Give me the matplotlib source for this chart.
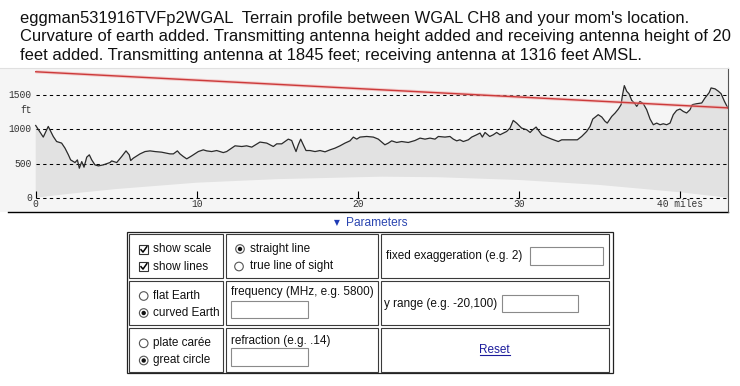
import matplotlib
matplotlib.use("Agg")
import matplotlib.pyplot as plt
from matplotlib.patches import Rectangle, Circle, Polygon

# ---------------- data ----------------
title_lines = [
    "eggman531916TVFp2WGAL  Terrain profile between WGAL CH8 and your mom's location.",
    "Curvature of earth added. Transmitting antenna height added and receiving antenna height of 20",
    "feet added. Transmitting antenna at 1845 feet; receiving antenna at 1316 feet AMSL.",
]

terrain_miles = [
    0.00, 0.47, 0.78, 1.09, 1.30, 1.61, 1.82, 2.03, 2.17, 2.44, 2.59, 2.71, 2.86, 3.00,
    3.17, 3.33, 3.48, 3.68, 3.89, 4.20, 4.61, 4.72, 5.03, 5.34, 5.61, 5.81, 5.90, 6.06,
    6.48, 6.79, 7.10, 7.41, 7.82, 8.34, 8.55, 8.80, 8.96, 9.17, 9.38, 9.69, 10.10, 10.41,
    10.62, 10.93, 11.24, 11.65, 11.86, 12.17, 12.38, 12.80, 13.10, 13.42, 13.73, 13.93,
    14.35, 14.76, 14.97, 15.28, 15.48, 15.69, 15.90, 16.04, 16.17, 16.31, 16.46, 16.62,
    16.79, 17.04, 17.35, 17.66, 17.97, 18.28, 18.59, 18.90, 19.21, 19.52, 19.73, 19.94,
    20.14, 20.56, 20.97, 21.28, 21.69, 21.90, 22.11, 22.42, 22.73, 23.14, 23.56, 23.87,
    24.18, 24.49, 24.80, 25.01, 25.42, 25.73, 25.94, 26.15, 26.35, 26.56, 26.87, 27.08,
    27.39, 27.60, 27.74, 27.91, 28.20, 28.42, 28.63, 28.84, 29.25, 29.46, 29.66, 29.87,
    30.18, 30.50, 30.71, 30.87, 31.08, 31.28, 31.43, 31.74, 32.05, 32.46, 32.67, 32.98,
    33.39, 33.64, 33.91, 34.22, 34.43, 34.60, 34.94, 35.16, 35.36, 35.50, 35.67, 35.78,
    35.99, 36.19, 36.36, 36.44, 36.56, 36.71, 36.85, 37.02, 37.22, 37.33, 37.53, 37.74,
    37.95, 38.16, 38.36, 38.57, 38.78, 38.98, 39.19, 39.40, 39.60, 39.81, 40.02, 40.22,
    40.43, 40.64, 40.78, 41.06, 41.37, 41.57, 41.83, 41.95, 42.20, 42.41, 42.57, 42.78,
    42.99,
]
terrain_ft = [
    1058, 888, 1044, 897, 823, 800, 726, 628, 554, 515, 554, 432, 529, 447,
    594, 628, 554, 481, 466, 481, 515, 539, 515, 603, 686, 628, 544, 579,
    642, 676, 686, 676, 667, 642, 642, 686, 642, 603, 569, 613, 676, 701,
    686, 676, 691, 661, 676, 726, 760, 750, 760, 741, 785, 815,
    800, 750, 789, 789, 823, 858, 838, 750, 676, 775, 858, 775,
    691, 691, 676, 691, 672, 701, 726, 760, 800, 833, 888, 858,
    888, 897, 888, 858, 775, 800, 833, 809, 823, 809, 838, 873,
    858, 873, 858, 897, 888, 897, 858, 833, 848, 823, 848, 888,
    922, 947, 888, 956, 897, 922, 956, 922, 970, 1020, 1132, 1093,
    1020, 995, 956, 995, 1035, 970, 922, 888, 858, 823, 848, 848,
    848, 848, 897, 970, 1044, 1152, 1216, 1182, 1120, 1093, 1152, 1191,
    1241, 1299, 1363, 1495, 1642, 1558, 1524, 1426, 1377, 1338, 1411, 1377,
    1289, 1152, 1069, 1093, 1069, 1083, 1069, 1093, 1216, 1279, 1299, 1264,
    1241, 1289, 1363, 1377, 1388, 1461, 1539, 1608, 1594, 1558, 1524, 1411,
    1314,
]

# earth-curvature baseline (bottom of the shaded terrain)
curve_miles = [0, 2, 5, 10, 15, 20, 21.5, 25, 30, 35, 40, 43]
curve_ft = [0, 55, 127, 220, 272, 300, 308, 300, 260, 187, 80, 0]

tx_ft = 1845
rx_ft = 1316
path_miles = 42.99

y_ticks = [0, 500, 1000, 1500]
y_tick_labels = ["0", "500", "1000", "1500"]
x_ticks = [0, 10, 20, 30, 40]
x_tick_labels = ["0", "10", "20", "30", "40 miles"]

# ---------------- figure ----------------
W, H = 740, 386
fig = plt.figure(figsize=(W / 100, H / 100), dpi=100, facecolor="white")

# chart area in pixel geometry
top_px, bot_px, right_px = 68, 212, 728
x0_px, px_per_mile = 35.7, 16.1
y0_px, ft_per_px = 197.7, 14.65

ax = fig.add_axes([0, (H - bot_px) / H, right_px / W, (bot_px - top_px) / H])
ax.set_facecolor("#f5f5f5")
ax.set_xlim(-x0_px / px_per_mile, (right_px - x0_px) / px_per_mile)
ax.set_ylim((y0_px - bot_px) * ft_per_px, (y0_px - top_px) * ft_per_px)
for s in ax.spines.values():
    s.set_visible(False)
ax.set_xticks([])
ax.set_yticks([])

# shaded terrain between curvature and profile
poly_pts = list(zip(terrain_miles, terrain_ft)) + list(zip(curve_miles[::-1], curve_ft[::-1]))
ax.add_patch(Polygon(poly_pts, closed=True, facecolor="#e2e2e2", edgecolor="none", zorder=1))

# dashed reference lines
ax.hlines(y_ticks, 0, path_miles, colors="black", linestyles=(0, (3.2, 3.2)), lw=0.75, zorder=3)

# terrain line
ax.plot(terrain_miles, terrain_ft, color="#2a2a2a", lw=0.9, zorder=4)

# line of sight
ax.plot([0, path_miles], [tx_ft, rx_ft], color="#f0a0a0", lw=2.4, alpha=0.5, zorder=5,
        solid_capstyle="butt")
ax.plot([0, path_miles], [tx_ft, rx_ft], color="#cc3a3a", lw=1.0, zorder=6)

mono = "Liberation Mono"
lfs = 6.9
for v, lab in zip(y_ticks, y_tick_labels):
    ax.text(-0.25, v, lab, ha="right", va="center", fontsize=lfs, family=mono, color="#333333")
ax.text(-0.25, (y0_px - 110) * ft_per_px, "ft", ha="right", va="center", fontsize=lfs,
        family=mono, color="#333333")
for v, lab in zip(x_ticks, x_tick_labels):
    ax.vlines(v, -10, 95, colors="black", lw=0.8, zorder=6)
    ax.text(v, -97, lab, ha="center", va="center", fontsize=lfs, family=mono, color="#333333")

# ---------------- page overlay ----------------
ov = fig.add_axes([0, 0, 1, 1])
ov.set_xlim(0, W)
ov.set_ylim(H, 0)
ov.axis("off")
ov.patch.set_visible(False)

# chart frame lines
ov.plot([8, right_px], [bot_px, bot_px], color="black", lw=1.0)
ov.plot([right_px, right_px], [top_px, bot_px], color="#555555", lw=0.8)
ov.plot([0, right_px], [top_px, top_px], color="#e0e0e0", lw=0.8)

sans = ["Liberation Sans", "DejaVu Sans"]
for i, line in enumerate(title_lines):
    ov.text(20, 18 + i * 18.8, line, ha="left", va="center", fontsize=11.9, family=sans,
            color="#111111")

# Parameters header
ov.text(337, 223, "\u25BC", ha="center", va="center", fontsize=5.5, family=["DejaVu Sans"],
        color="#1f3bb5")
ov.text(346, 223.5, "Parameters", ha="left", va="center", fontsize=8.6, family=sans,
        color="#2a45b0")

# table
ov.add_patch(Rectangle((126.7, 231.7), 612.7 - 126.7, 373.3 - 231.7, fill=False,
                       edgecolor="#222222", lw=0.9))
cols = [(129.3, 223.3), (226, 378.3), (380.7, 609.3)]
rows = [(234, 278.3), (281, 325), (328.3, 371.7)]
for (x1, x2) in cols:
    for (y1, y2) in rows:
        ov.add_patch(Rectangle((x1, y1), x2 - x1, y2 - y1, fill=False, edgecolor="#3a3a3a",
                               lw=0.8))

fs = 8.5
tc = "#111111"


def checkbox(x, y):
    ov.add_patch(Rectangle((x - 4.5, y - 4.5), 9, 9, facecolor="white", edgecolor="#333333",
                           lw=0.8))
    ov.plot([x - 2.8, x - 0.8, x + 3.0], [y + 0.2, y + 2.6, y - 2.8], color="black", lw=1.1)


def radio(x, y, on):
    ov.add_patch(Circle((x, y), 4.3, facecolor="white", edgecolor="#555555", lw=0.8))
    if on:
        ov.add_patch(Circle((x, y), 2.2, facecolor="#111111", edgecolor="none"))


def inputbox(x1, y1, x2, y2):
    ov.add_patch(Rectangle((x1, y1), x2 - x1, y2 - y1, facecolor="white", edgecolor="#8a8a8a",
                           lw=0.8))


checkbox(143.8, 249.5)
ov.text(153.3, 249.5, "show scale", ha="left", va="center", fontsize=fs, family=sans, color=tc)
checkbox(143.8, 266.5)
ov.text(153.3, 266.5, "show lines", ha="left", va="center", fontsize=fs, family=sans, color=tc)

radio(240, 249, True)
ov.text(249.5, 249, "straight line", ha="left", va="center", fontsize=fs, family=sans, color=tc)
radio(239, 266.5, False)
ov.text(249.5, 266.5, "true line of sight", ha="left", va="center", fontsize=fs, family=sans,
        color=tc)

ov.text(386.5, 256, "fixed exaggeration (e.g. 2)", ha="left", va="center", fontsize=fs,
        family=sans, color=tc)
inputbox(530, 247.3, 602.7, 265)

radio(143.7, 296, False)
ov.text(153.3, 296, "flat Earth", ha="left", va="center", fontsize=fs, family=sans, color=tc)
radio(143.7, 313, True)
ov.text(153.3, 313, "curved Earth", ha="left", va="center", fontsize=fs, family=sans, color=tc)

ov.text(231, 292.5, "frequency (MHz, e.g. 5800)", ha="left", va="center", fontsize=fs,
        family=sans, color=tc)
inputbox(231, 300.7, 308.3, 318.3)

ov.text(383.5, 303.5, "y range (e.g. -20,100)", ha="left", va="center", fontsize=fs,
        family=sans, color=tc)
inputbox(501.7, 295, 578.3, 311.7)

radio(143.7, 343.3, False)
ov.text(153.3, 343.3, "plate car\u00e9e", ha="left", va="center", fontsize=fs, family=sans,
        color=tc)
radio(143.7, 360.5, True)
ov.text(153.3, 360.5, "great circle", ha="left", va="center", fontsize=fs, family=sans,
        color=tc)

ov.text(231, 340.7, "refraction (e.g. .14)", ha="left", va="center", fontsize=fs, family=sans,
        color=tc)
inputbox(231, 348.3, 308.3, 366)

ov.text(494.5, 350, "Reset", ha="center", va="center", fontsize=fs, family=sans,
        color="#1c1c9c")
ov.plot([479.5, 509.5], [355.3, 355.3], color="#1c1c9c", lw=0.8)

fig.savefig("out.png", dpi=100, facecolor="white")
